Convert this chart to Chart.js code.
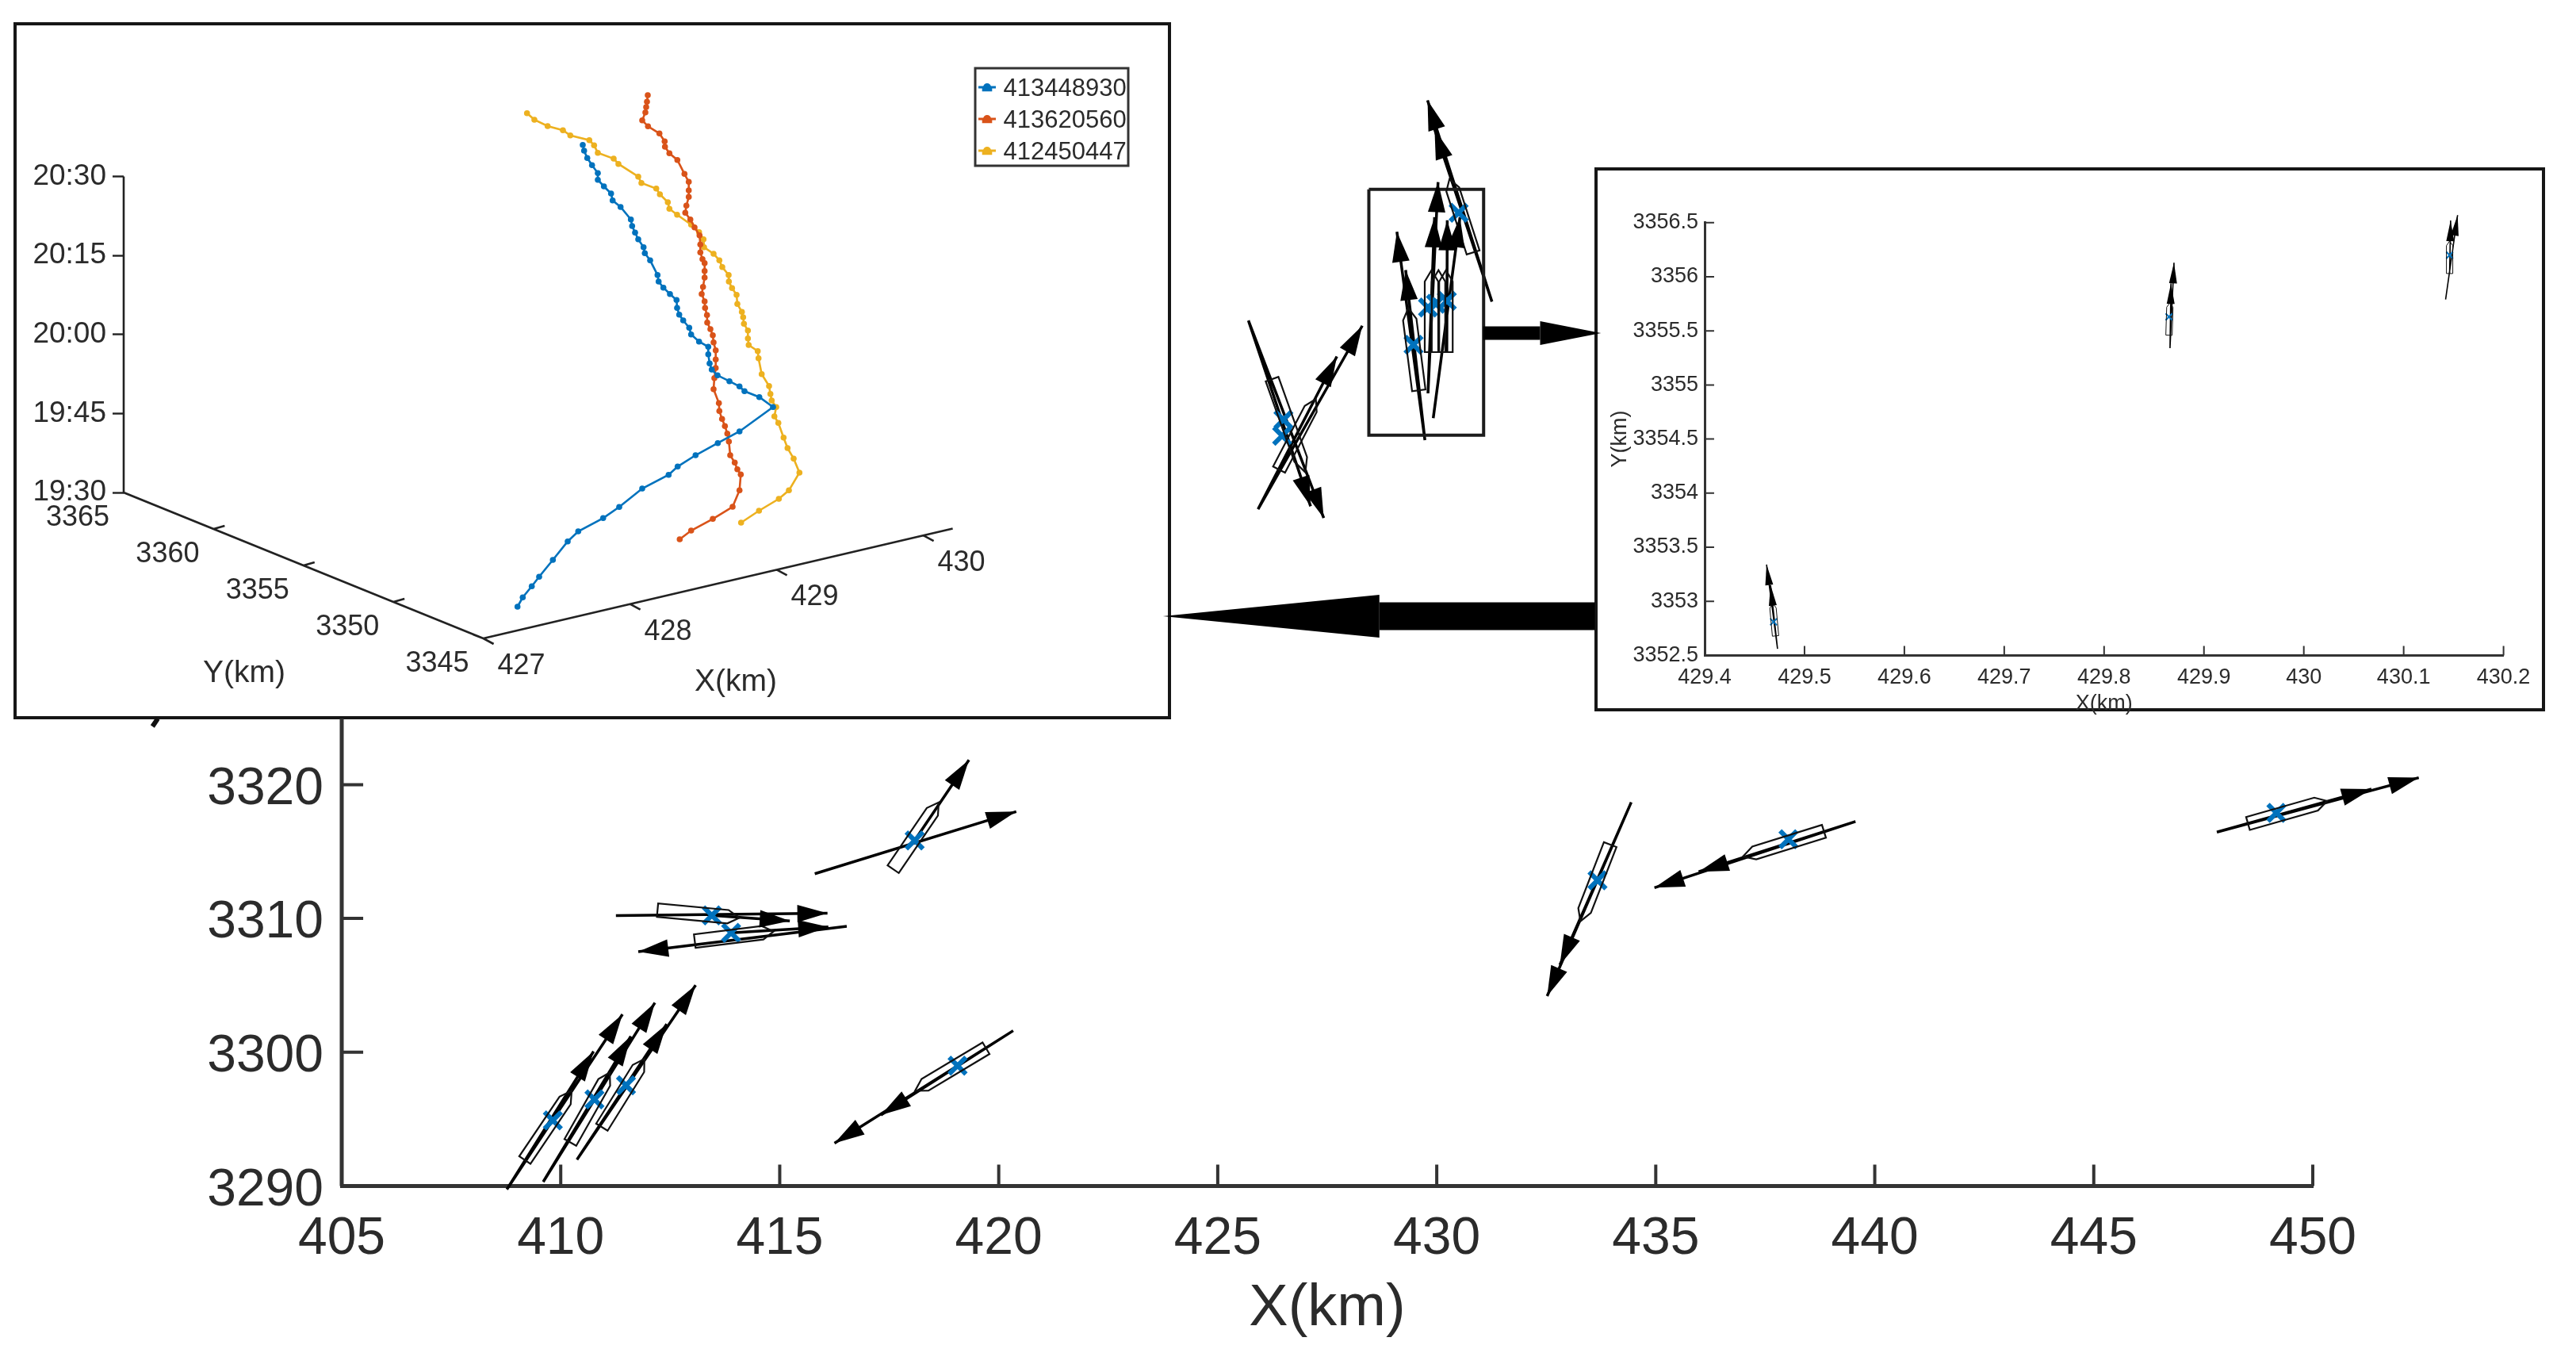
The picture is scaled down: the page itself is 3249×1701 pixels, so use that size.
<!DOCTYPE html>
<html>
<head>
<meta charset="utf-8">
<script src="https://cdn.jsdelivr.net/npm/chart.js@4"></script>
<style>
  html, body { margin: 0; padding: 0; background: #fff; }
  body { position: relative; width: 3249px; height: 1701px; overflow: hidden; }
  canvas { position: absolute; }
  .box { position: absolute; background: #fff; border: 4px solid #161616; box-sizing: border-box; }
</style>
</head>
<body>
<div class="box" style="left:17px;top:28px;width:1460px;height:879px"></div>
<div class="box" style="left:2011px;top:211px;width:1199px;height:686px"></div>
<canvas id="view3d" width="1451" height="870" style="left:21px;top:32px"></canvas>
<canvas id="detail" width="1230" height="720" style="left:2000px;top:200px"></canvas>
<canvas id="main" width="3249" height="1701" style="left:0;top:0"></canvas>
<script>
// main plot: ship positions in km
const markX = [409.82, 410.77, 411.49, 413.45, 413.89, 419.06, 418.08, 433.67, 438.03, 449.17, 426.50, 426.47, 429.47, 429.80, 429.98, 430.23, 430.50];
const markY = [3294.90, 3296.48, 3297.53, 3310.23, 3308.92, 3299.00, 3315.83, 3312.85, 3315.92, 3317.89, 3347.28, 3346.07, 3352.88, 3355.66, 3355.94, 3356.16, 3362.75];
const sternX = [409.18, 410.22, 410.94, 412.21, 413.06, 419.71, 417.59, 433.96, 438.84, 448.52, 426.24, 426.40, 429.59, 429.88, 430.04, 430.21, 430.83];
const sternY = [3291.94, 3293.26, 3294.40, 3310.62, 3308.31, 3300.30, 3313.68, 3315.52, 3316.51, 3317.10, 3350.31, 3343.55, 3349.47, 3352.33, 3352.33, 3352.33, 3359.78];
const bowX = [410.25, 411.12, 411.91, 414.08, 414.86, 418.09, 418.63, 433.28, 436.99, 450.33, 427.00, 427.24, 429.35, 429.88, 430.04, 430.21, 430.29];
const bowY = [3297.12, 3298.48, 3299.50, 3310.05, 3309.03, 3297.12, 3318.67, 3309.79, 3314.63, 3318.78, 3343.34, 3348.82, 3355.62, 3358.46, 3358.46, 3358.46, 3365.26];
const tailX = [408.77, 408.77, 409.60, 409.60, 410.37, 410.37, 411.26, 413.45, 416.53, 413.89, 420.33, 420.33, 418.08, 415.80, 434.44, 434.44, 439.56, 439.56, 447.81, 447.81, 425.70, 425.70, 425.92, 425.92, 429.73, 429.73, 429.80, 429.80, 429.92, 430.23, 431.26, 431.26];
const tailY = [3289.75, 3289.75, 3290.31, 3290.31, 3291.97, 3291.97, 3310.21, 3310.23, 3309.41, 3308.92, 3301.61, 3301.61, 3315.83, 3313.34, 3318.68, 3318.68, 3317.24, 3317.24, 3316.45, 3316.45, 3354.69, 3354.69, 3340.59, 3340.59, 3345.75, 3345.75, 3349.25, 3349.25, 3347.39, 3352.33, 3356.10, 3356.10];
const tipX = [411.41, 410.75, 412.15, 411.60, 413.08, 412.42, 416.09, 415.23, 411.77, 416.11, 416.25, 417.31, 419.32, 420.40, 432.52, 432.81, 434.97, 435.98, 452.42, 451.34, 427.42, 427.12, 428.30, 427.72, 429.09, 429.29, 430.03, 429.95, 430.53, 430.24, 429.79, 429.95];
const tipY = [3302.83, 3300.06, 3303.70, 3301.20, 3305.01, 3302.11, 3310.39, 3309.82, 3307.51, 3309.37, 3293.20, 3295.31, 3321.84, 3317.99, 3304.20, 3306.53, 3312.30, 3313.49, 3320.52, 3319.67, 3339.93, 3340.81, 3354.30, 3352.00, 3361.32, 3358.46, 3365.04, 3362.41, 3362.41, 3362.19, 3371.15, 3368.99];
const zoomBoxX = [428.45, 431.07, 431.07, 428.45, 428.45];
const zoomBoxY = [3364.50, 3364.50, 3346.12, 3346.12, 3364.50];
const yAxisX = [405, 405];
const yAxisY = [3290, 3324.94];
const xTicks = [410, 415, 420, 425, 430, 435, 440, 445, 450];
const yTicks = [3300, 3310, 3320];
const stubX = [400.80, 400.68];
const stubY = [3324.94, 3324.35];
const linkTailX = [431.06, 433.61];
const linkTailY = [3353.75, 3332.59];
const linkBaseX = [432.36, 428.69];
const linkTipX = [433.75, 423.75];

// detail plot
const detailMarkX = [429.469, 429.865, 430.146];
const detailMarkY = [3352.81, 3355.63, 3356.20];
const detailSternX = [429.471, 429.865, 430.146];
const detailSternY = [3352.68, 3355.46, 3356.03];
const detailBowX = [429.468, 429.866, 430.146];
const detailBowY = [3352.98, 3355.76, 3356.33];
const detailTailX = [429.473, 429.473, 429.866, 429.866, 430.142, 430.146];
const detailTailY = [3352.56, 3352.56, 3355.34, 3355.34, 3355.79, 3356.03];
const detailTipX = [429.462, 429.466, 429.870, 429.867, 430.154, 430.147];
const detailTipY = [3353.34, 3353.15, 3356.13, 3355.94, 3356.57, 3356.52];
const detailXTicks = [429.5, 429.6, 429.7, 429.8, 429.9, 430, 430.1, 430.2];
const detailYTicks = [3353, 3353.5, 3354, 3354.5, 3355, 3355.5, 3356, 3356.5];

// 3D plot: tracks as read in the flat view plane of the picture
const tracks = ['413448930', '413620560', '412450447'];
const blueU = [735, 736.7, 740.7, 746.7, 754, 754, 761.7, 770.7, 772.7, 782.7, 795.7, 797.3, 801, 805, 811.7, 813.3, 820, 829.3, 830.7, 836.7, 845, 853.3, 854, 856.7, 861.7, 869.3, 871.7, 881.7, 893.3, 893.3, 895, 897.7, 905, 920, 932.7, 939, 957.7, 975, 932.7, 905.3, 877.3, 854.7, 843.3, 810, 781, 760.7, 729.3, 716, 697.3, 680, 670.7, 659.3, 652.7];
const blueV = [182.7, 190, 199.3, 208.3, 218.3, 226.7, 235, 244, 252.7, 261, 276.7, 285, 293.3, 301.7, 311.7, 319.3, 328.3, 346.7, 355, 362.7, 370.7, 378.3, 388.3, 396.7, 404, 413.3, 421.7, 430.7, 437.3, 446.7, 458.3, 466, 473.3, 480.7, 487.3, 493.3, 500.7, 513.3, 544, 558.7, 574, 588.3, 598.7, 616, 639.3, 653.3, 670, 682.7, 706, 727.3, 739.3, 753.3, 765];
const redU = [817, 816, 815, 814, 810, 817.3, 831.7, 838.3, 838.7, 844.3, 854.3, 863.3, 868.7, 868.7, 868.7, 865.7, 864.3, 870.7, 876, 882.3, 883.3, 883.3, 886, 888.7, 888.7, 888.7, 886.7, 885, 888.7, 889.3, 891.7, 892, 896, 899, 900, 902.7, 902.7, 902.7, 901, 900, 906.7, 907.3, 910.7, 914.3, 917.3, 919.3, 921, 926.7, 930, 934.3, 932.7, 924, 899, 871.7, 857.3];
const redV = [120, 128.3, 135, 141.7, 151.7, 159.3, 168.3, 178.3, 185, 193.3, 201.7, 219.3, 229.3, 240, 248.3, 259.3, 268.3, 276.7, 286.7, 296.7, 308.3, 318.3, 326.7, 331.7, 341.7, 350, 361.7, 370.7, 380, 388.3, 397.3, 406.7, 415, 422.7, 431.7, 441.7, 453.3, 464, 476.7, 490.7, 508.3, 518.3, 528.3, 537.3, 546.7, 556.7, 574, 583.3, 591.7, 598.3, 618.3, 639, 654.3, 669, 680];
const yellowU = [664.7, 674, 690.7, 710, 719.3, 743.3, 749.3, 754, 774, 780, 805, 809, 827.7, 832.3, 842.3, 844.3, 854, 871.7, 881.7, 887.3, 888, 900, 907.3, 911, 919, 919.3, 923.3, 929, 930, 935.7, 937.3, 938.3, 943.3, 943.3, 944.3, 955.7, 956.7, 960.7, 970, 971.7, 973.3, 979, 976.7, 981.7, 988.3, 993.3, 1001, 1008.3, 995, 982.3, 957.3, 934.7];
const yellowV = [142.7, 151, 159, 164.3, 170.7, 176.7, 183.3, 192.7, 200, 206.7, 222.7, 230.7, 237.7, 245, 255, 263.3, 270.7, 283.3, 292.7, 301.7, 311.7, 320, 328.3, 336.7, 346.7, 355, 363.3, 371.7, 383.3, 393.3, 400, 408.3, 416.7, 426.7, 435, 442.7, 451.7, 471.7, 486.7, 496.7, 505, 513.3, 525, 533.3, 551.7, 565, 578.3, 596, 618.3, 629, 644, 659];
const timeLabels = ['19:30', '19:45', '20:00', '20:15', '20:30'];
const timeMinutes = [0, 15, 30, 45, 60];
const kmXTicks = [427, 428, 429, 430];
const kmYTicks = [3345, 3350, 3355, 3360, 3365];

const FONT = '"Liberation Sans", Arial, sans-serif';
const INK = '#2b2b2b';
const BLUE = '#0072BD';
const RED = '#D95319';
const YELLOW = '#EDB120';

const pts = (xs, ys) => xs.map((x, i) => ({ x, y: ys[i] }));

// tail/tip pairs, broken apart by NaN so one dataset can hold all shafts
function segments(ax, ay, bx, by) {
  const out = [];
  ax.forEach((_, i) => {
    out.push({ x: ax[i], y: ay[i] }, { x: bx[i], y: by[i] }, { x: NaN, y: NaN });
  });
  return out;
}

// ticks point into the plot, as in MATLAB; dx/dy is the tick length in axis units
function inwardTicks(xVals, yVals, x0, y0, dx, dy) {
  return [
    ...xVals.flatMap(v => [{ x: v, y: y0 }, { x: v, y: y0 + dy }, { x: NaN, y: NaN }]),
    ...yVals.flatMap(v => [{ x: x0, y: v }, { x: x0 + dx, y: v }, { x: NaN, y: NaN }])
  ];
}

function head(ctx, tx, ty, fromX, fromY, len, halfW) {
  const a = Math.atan2(ty - fromY, tx - fromX);
  const bx = tx - Math.cos(a) * len, by = ty - Math.sin(a) * len;
  ctx.beginPath();
  ctx.moveTo(tx, ty);
  ctx.lineTo(bx - Math.sin(a) * halfW, by + Math.cos(a) * halfW);
  ctx.lineTo(bx + Math.sin(a) * halfW, by - Math.cos(a) * halfW);
  ctx.closePath();
  ctx.fill();
}

// hulls and arrow heads, placed through the chart scales
const shipGlyphs = {
  id: 'shipGlyphs',
  afterDatasetsDraw(chart, args, o) {
    const { ctx, scales: { x, y } } = chart;
    ctx.save();
    ctx.strokeStyle = '#111';
    ctx.fillStyle = '#000';
    ctx.lineWidth = o.hullLine;
    ctx.lineJoin = 'miter';
    o.sternX.forEach((_, i) => {
      const sx = x.getPixelForValue(o.sternX[i]), sy = y.getPixelForValue(o.sternY[i]);
      const bx = x.getPixelForValue(o.bowX[i]), by = y.getPixelForValue(o.bowY[i]);
      const a = Math.atan2(by - sy, bx - sx), L = Math.hypot(bx - sx, by - sy);
      const nx = -Math.sin(a) * o.hullWidth / 2, ny = Math.cos(a) * o.hullWidth / 2;
      const mx = sx + Math.cos(a) * L * 0.86, my = sy + Math.sin(a) * L * 0.86;
      ctx.beginPath();
      ctx.moveTo(sx + nx, sy + ny);
      ctx.lineTo(mx + nx, my + ny);
      ctx.lineTo(bx, by);
      ctx.lineTo(mx - nx, my - ny);
      ctx.lineTo(sx - nx, sy - ny);
      ctx.closePath();
      ctx.stroke();
    });
    o.tipX.forEach((_, i) => {
      head(ctx, x.getPixelForValue(o.tipX[i]), y.getPixelForValue(o.tipY[i]),
        x.getPixelForValue(o.tailX[i]), y.getPixelForValue(o.tailY[i]), o.headLength, o.headWidth / 2);
    });
    ctx.restore();
  }
};

// the two thick arrows that link the plots
const linkArrows = {
  id: 'linkArrows',
  afterDraw(chart) {
    const { ctx, scales: { x, y } } = chart;
    const shaft = [17, 35], headH = [30, 54];
    ctx.save();
    ctx.fillStyle = '#000';
    linkTailX.forEach((_, i) => {
      const py = y.getPixelForValue(linkTailY[i]);
      const t = x.getPixelForValue(linkTailX[i]), b = x.getPixelForValue(linkBaseX[i]), p = x.getPixelForValue(linkTipX[i]);
      ctx.fillRect(Math.min(t, b), py - shaft[i] / 2, Math.abs(b - t), shaft[i]);
      ctx.beginPath();
      ctx.moveTo(p, py);
      ctx.lineTo(b, py - headH[i] / 2);
      ctx.lineTo(b, py + headH[i] / 2);
      ctx.closePath();
      ctx.fill();
    });
    ctx.restore();
  }
};

new Chart(document.getElementById('main'), {
  type: 'scatter',
  data: {
    datasets: [
      { data: pts(yAxisX, yAxisY), showLine: true, borderColor: '#333', borderWidth: 5, pointRadius: 0, clip: false },
      { data: inwardTicks(xTicks, yTicks, 405, 3290, 0.49, 1.6), showLine: true, borderColor: '#333', borderWidth: 4, pointRadius: 0, clip: false },
      { data: pts(zoomBoxX, zoomBoxY), showLine: true, borderColor: '#1c1c1c', borderWidth: 4, pointRadius: 0, clip: false },
      { data: pts(stubX, stubY), showLine: true, borderColor: '#111', borderWidth: 6, pointRadius: 0, clip: false },
      { data: pts(markX, markY), pointStyle: 'crossRot', pointRadius: 15, borderColor: BLUE, borderWidth: 6, clip: false },
      { data: segments(tailX, tailY, tipX, tipY), showLine: true, borderColor: '#000', borderWidth: 3.5, pointRadius: 0, clip: false }
    ]
  },
  options: {
    responsive: false,
    animation: false,
    layout: { padding: { top: 100, right: 332, left: 0, bottom: 0 } },
    plugins: {
      legend: { display: false },
      tooltip: { enabled: false },
      shipGlyphs: { sternX, sternY, bowX, bowY, tailX, tailY, tipX, tipY, hullWidth: 17, hullLine: 2.2, headLength: 38, headWidth: 22 }
    },
    scales: {
      x: {
        type: 'linear', min: 405, max: 450,
        afterFit: s => { s.height = 205.5; },
        border: { color: '#333', width: 5 },
        grid: { drawOnChartArea: false, drawTicks: false },
        ticks: { stepSize: 5, padding: 28, color: INK, font: { family: FONT, size: 66 }, maxRotation: 0, includeBounds: false },
        title: { display: true, text: 'X(km)', color: INK, font: { family: FONT, size: 74 }, padding: { top: 0, bottom: 6 } }
      },
      y: {
        type: 'linear', min: 3290, max: 3372.72,
        afterFit: s => { s.width = 431; },
        afterBuildTicks: s => { s.ticks = [3290, ...yTicks].map(value => ({ value })); },
        border: { display: false },
        grid: { drawOnChartArea: false, drawTicks: false },
        ticks: { padding: 23, labelOffset: 6, color: INK, font: { family: FONT, size: 66 }, callback: v => String(v) }
      }
    }
  },
  plugins: [shipGlyphs, linkArrows]
});

new Chart(document.getElementById('detail'), {
  type: 'scatter',
  data: {
    datasets: [
      { data: inwardTicks(detailXTicks, detailYTicks, 429.4, 3352.5, 0.0095, 0.088), showLine: true, borderColor: '#333', borderWidth: 2, pointRadius: 0, clip: false },
      { data: pts(detailMarkX, detailMarkY), pointStyle: 'crossRot', pointRadius: 6, borderColor: BLUE, borderWidth: 2, clip: false },
      { data: segments(detailTailX, detailTailY, detailTipX, detailTipY), showLine: true, borderColor: '#000', borderWidth: 1.6, pointRadius: 0, clip: false }
    ]
  },
  options: {
    responsive: false,
    animation: false,
    layout: { padding: { top: 80.8, right: 72.4, left: 0, bottom: 0 } },
    plugins: {
      legend: { display: false },
      tooltip: { enabled: false },
      shipGlyphs: {
        sternX: detailSternX, sternY: detailSternY, bowX: detailBowX, bowY: detailBowY,
        tailX: detailTailX, tailY: detailTailY, tipX: detailTipX, tipY: detailTipY,
        hullWidth: 8, hullLine: 1, headLength: 26, headWidth: 10
      }
    },
    scales: {
      x: {
        type: 'linear', min: 429.4, max: 430.2,
        afterFit: s => { s.height = 93.6; },
        border: { color: '#333', width: 3 },
        grid: { drawOnChartArea: false, drawTicks: false },
        ticks: { stepSize: 0.1, padding: 12, color: INK, font: { family: FONT, size: 27 }, maxRotation: 0, includeBounds: false, callback: v => String(+v.toFixed(1)) },
        title: { display: true, text: 'X(km)', color: INK, font: { family: FONT, size: 27 }, padding: { top: 0, bottom: 16 } }
      },
      y: {
        type: 'linear', min: 3352.5, max: 3356.5,
        afterFit: s => { s.width = 150; },
        border: { color: '#333', width: 3 },
        grid: { drawOnChartArea: false, drawTicks: false },
        ticks: { stepSize: 0.5, padding: 8, color: INK, font: { family: FONT, size: 27 }, includeBounds: false, callback: v => String(+v.toFixed(1)) },
        title: { display: true, text: 'Y(km)', color: INK, font: { family: FONT, size: 27 }, padding: { top: 27, bottom: 0 } }
      }
    }
  },
  plugins: [shipGlyphs]
});

// flat picture of the 3D axes
function project(km, northKm, minutes) {
  return {
    x: 609.6 + (km - 427) * 185 - (northKm - 3345) * 22.68,
    y: 805 - (km - 427) * 43.3 - (northKm - 3345) * 9.2 - minutes * 6.64
  };
}
const gap = { x: NaN, y: NaN };
const frameLines = [
  project(427, 3365, 60), project(427, 3365, 0), project(427, 3345, 0), gap,
  project(427, 3345, 0), project(430.2, 3345, 0), gap
];
kmXTicks.forEach(v => {
  const p = project(v, 3345, 0);
  frameLines.push(p, { x: p.x + 13, y: p.y + 7 }, gap);
});
kmYTicks.slice(0, -1).forEach(v => {
  const p = project(427, v, 0);
  frameLines.push(p, { x: p.x + (v === 3345 ? -13 : 14), y: p.y + (v === 3345 ? -5 : -4) }, gap);
});

const viewLabels = {
  id: 'viewLabels',
  afterDraw(chart) {
    const { ctx, scales: { x, y } } = chart;
    const put = (p, dx, dy, text) => ctx.fillText(text, x.getPixelForValue(p.x + dx), y.getPixelForValue(p.y + dy));
    ctx.save();
    ctx.fillStyle = INK;
    ctx.font = '36px ' + FONT;
    ctx.textAlign = 'center';
    ctx.textBaseline = 'middle';
    kmXTicks.forEach(v => put(project(v, 3345, 0), 48, 35, String(v)));
    kmYTicks.forEach(v => put(project(427, v, 0), -58, 32, String(v)));
    ctx.font = '39px ' + FONT;
    ctx.fillText('Y(km)', x.getPixelForValue(308), y.getPixelForValue(849));
    ctx.fillText('X(km)', x.getPixelForValue(928), y.getPixelForValue(860));
    ctx.restore();
  }
};

// moves the built-in legend to the corner box and adds its frame and dots
const legendBox = {
  id: 'legendBox',
  afterLayout(chart) {
    const l = chart.legend;
    l.left = 1210; l.top = 56; l.right = 1400; l.bottom = 260;
    l.width = 190; l.height = 204;
  },
  afterDraw(chart) {
    const { ctx, legend } = chart;
    ctx.save();
    ctx.strokeStyle = '#333';
    ctx.lineWidth = 3;
    ctx.strokeRect(1209, 54, 193, 123);
    legend.legendItems.forEach((item, i) => {
      const cy = 78 + i * 40;
      ctx.strokeStyle = ctx.fillStyle = item.fillStyle;
      ctx.lineWidth = 3;
      ctx.beginPath(); ctx.moveTo(1213, cy); ctx.lineTo(1235, cy); ctx.stroke();
      ctx.beginPath(); ctx.arc(1224, cy, 5, 0, Math.PI * 2); ctx.fill();
    });
    ctx.restore();
  }
};

const trackSet = (label, color, u, v) => ({
  label, data: pts(u, v), showLine: true, borderColor: color, backgroundColor: color,
  borderWidth: 2.6, pointRadius: 3.8, pointBorderWidth: 0
});

new Chart(document.getElementById('view3d'), {
  type: 'scatter',
  data: {
    datasets: [
      { label: 'frame', data: frameLines, showLine: true, borderColor: '#222', borderWidth: 2.6, pointRadius: 0, clip: false },
      trackSet(tracks[0], BLUE, blueU, blueV),
      trackSet(tracks[1], RED, redU, redV),
      trackSet(tracks[2], YELLOW, yellowU, yellowV)
    ]
  },
  options: {
    responsive: false,
    animation: false,
    layout: { padding: { top: 60, bottom: 60, right: 50, left: 0 } },
    plugins: {
      tooltip: { enabled: false },
      legend: {
        position: 'chartArea', align: 'start',
        labels: {
          boxWidth: 10, boxHeight: 3, padding: 9, color: INK, font: { family: FONT, size: 31 },
          filter: item => item.text !== 'frame'
        }
      }
    },
    scales: {
      x: { type: 'linear', display: false, min: 156, max: 1422 },
      y: {
        type: 'linear', reverse: true, min: 92, max: 842,
        afterFit: s => { s.width = 135; },
        afterBuildTicks: s => { s.ticks = timeMinutes.map(m => ({ value: project(427, 3365, m).y })); },
        border: { display: false },
        grid: { drawOnChartArea: false, tickLength: 14, tickWidth: 2.4, tickColor: '#222' },
        ticks: {
          padding: 8, color: INK, font: { family: FONT, size: 37 },
          callback: (v, i) => timeLabels[i]
        }
      }
    }
  },
  plugins: [viewLabels, legendBox]
});
</script>
</body>
</html>
